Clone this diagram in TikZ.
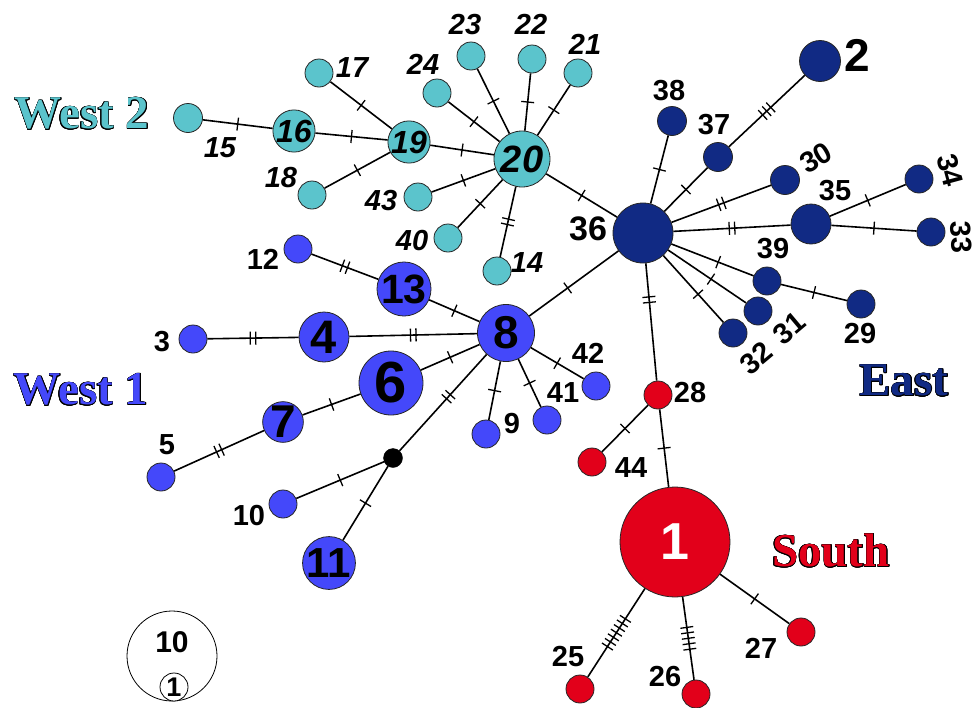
\documentclass[tikz,border=0pt]{standalone}
\usepackage{fontspec}
\setmainfont{Liberation Sans}
\newfontfamily\regfont{Liberation Serif}
\usepackage{contour}
\contourlength{0.55pt}
\usetikzlibrary{decorations.markings}
\definecolor{cyanc}{RGB}{91,196,204}
\definecolor{bluec}{RGB}{68,72,250}
\definecolor{navyc}{RGB}{17,42,132}
\definecolor{redc}{RGB}{226,0,26}
\newcommand{\fs}[1]{\fontsize{#1}{#1}\selectfont}
\tikzset{
  hap/.style={circle, draw=black!85, line width=0.8pt, inner sep=0pt, text=black},
  cy/.style={hap, fill=cyanc},
  bl/.style={hap, fill=bluec},
  nv/.style={hap, fill=navyc},
  rd/.style={hap, fill=redc},
  lab/.style={font=\fs{29}\bfseries, inner sep=0pt},
  labi/.style={font=\fs{29}\bfseries\itshape, inner sep=0pt},
  region/.style={font=\regfont\fs{47}\bfseries, inner sep=0pt},
  edge/.style={line width=1.6pt, black},
  mut/.style 2 args={postaction={decorate, decoration={markings,
    mark=at position #2 with {\foreach \k in {1,...,#1}{
      \draw[line width=1.3pt] ({(\k-(#1+1)/2)*5.5pt},-6.5pt) -- ({(\k-(#1+1)/2)*5.5pt},6.5pt);}}}}},
}
\begin{document}
\begin{tikzpicture}[x=1pt,y=-1pt]
\useasboundingbox (0,0) rectangle (979,707);
% ---------- West 2 ----------
\node[cy, minimum size=29pt] (n15) at (188,118) {};
\node[cy, minimum size=40pt, font=\fs{32}\bfseries\itshape] (n16) at (294,131) {16};
\node[cy, minimum size=28pt] (n17) at (319,73) {};
\node[cy, minimum size=28pt] (n18) at (312,195) {};
\node[cy, minimum size=40pt, font=\fs{32}\bfseries\itshape] (n19) at (409,142) {19};
\node[cy, minimum size=28pt] (n43) at (418,197) {};
\node[cy, minimum size=28pt] (n24) at (437,93) {};
\node[cy, minimum size=28pt] (n23) at (471,56) {};
\node[cy, minimum size=28pt] (n22) at (532,59) {};
\node[cy, minimum size=28pt] (n21) at (578,73) {};
\node[cy, minimum size=56pt, font=\fs{38}\bfseries\itshape] (n20) at (522,159) {20};
\node[cy, minimum size=28pt] (n40) at (448,238) {};
\node[cy, minimum size=28pt] (n14) at (497,271) {};
% ---------- East ----------
\node[nv, minimum size=60pt] (n36) at (643,233) {};
\node[nv, minimum size=41pt] (n2) at (820,61) {};
\node[nv, minimum size=29pt] (n38) at (672,121) {};
\node[nv, minimum size=29pt] (n37) at (718,157) {};
\node[nv, minimum size=29pt] (n30) at (785,180) {};
\node[nv, minimum size=28pt] (n34) at (919,179) {};
\node[nv, minimum size=40pt] (n35) at (811,224) {};
\node[nv, minimum size=28pt] (n33) at (931,232) {};
\node[nv, minimum size=28pt] (n39) at (767,281) {};
\node[nv, minimum size=28pt] (n29) at (861,304) {};
\node[nv, minimum size=28pt] (n31) at (758,311) {};
\node[nv, minimum size=28pt] (n32) at (733,333) {};
% ---------- South ----------
\node[rd, minimum size=28pt] (n28) at (658,395) {};
\node[rd, minimum size=28pt] (n44) at (592,462) {};
\node[rd, minimum size=110pt, text=white, font=\fs{52}\bfseries] (n1) at (675,542) {1};
\node[rd, minimum size=28pt] (n25) at (580,689) {};
\node[rd, minimum size=28pt] (n26) at (696,694) {};
\node[rd, minimum size=28pt] (n27) at (801,632) {};
% ---------- West 1 ----------
\node[bl, minimum size=57pt, font=\fs{46}\bfseries] (n8) at (506,333) {8};
\node[bl, minimum size=28pt] (n42) at (596,386) {};
\node[bl, minimum size=28pt] (n41) at (547,420) {};
\node[bl, minimum size=28pt] (n9) at (486,434) {};
\node[bl, minimum size=28pt] (n12) at (298,249) {};
\node[bl, minimum size=48pt, font=\fs{41}\bfseries] (n13) at (404,289) {13};
\node[bl, minimum size=28pt] (n3) at (193,339) {};
\node[bl, minimum size=50pt, font=\fs{47}\bfseries] (n4) at (324,337) {4};
\node[bl, minimum size=64pt, font=\fs{58}\bfseries] (n6) at (391,383) {6};
\node[bl, minimum size=40pt, font=\fs{46}\bfseries] (n7) at (283,422) {7};
\node[bl, minimum size=28pt] (n5) at (161,477) {};
\node[circle, fill=black, draw=black, inner sep=0pt, minimum size=19pt] (nb) at (393,458) {};
\node[bl, minimum size=28pt] (n10) at (283,504) {};
\node[bl, minimum size=50pt, font=\fs{42}\bfseries] (n11) at (329,563) {11};
% ---------- edges ----------
\draw[edge, mut={1}{0.5}] (n15) -- (n16);
\draw[edge, mut={1}{0.5}] (n16) -- (n19);
\draw[edge, mut={1}{0.5}] (n17) -- (n19);
\draw[edge, mut={1}{0.5}] (n18) -- (n19);
\draw[edge, mut={1}{0.5}] (n19) -- (n20);
\draw[edge, mut={1}{0.5}] (n24) -- (n20);
\draw[edge, mut={1}{0.5}] (n23) -- (n20);
\draw[edge, mut={1}{0.5}] (n22) -- (n20);
\draw[edge, mut={1}{0.5}] (n21) -- (n20);
\draw[edge, mut={1}{0.5}] (n43) -- (n20);
\draw[edge, mut={1}{0.5}] (n40) -- (n20);
\draw[edge, mut={2}{0.5}] (n14) -- (n20);
\draw[edge, mut={1}{0.5}] (n20) -- (n36);
\draw[edge, mut={1}{0.5}] (n36) -- (n38);
\draw[edge, mut={1}{0.5}] (n36) -- (n37);
\draw[edge, mut={3}{0.5}] (n37) -- (n2);
\draw[edge, mut={2}{0.5}] (n36) -- (n30);
\draw[edge, mut={2}{0.5}] (n36) -- (n35);
\draw[edge, mut={1}{0.5}] (n35) -- (n34);
\draw[edge, mut={1}{0.5}] (n35) -- (n33);
\draw[edge, mut={1}{0.57}] (n36) -- (n39);
\draw[edge, mut={1}{0.5}] (n39) -- (n29);
\draw[edge, mut={1}{0.55}] (n36) -- (n31);
\draw[edge, mut={1}{0.58}] (n36) -- (n32);
\draw[edge, mut={2}{0.31}] (n36) -- (n28);
\draw[edge, mut={1}{0.5}] (n28) -- (n44);
\draw[edge, mut={1}{0.5}] (n28) -- (n1);
\draw[edge, mut={7}{0.5}] (n1) -- (n25);
\draw[edge, mut={5}{0.5}] (n1) -- (n26);
\draw[edge, mut={1}{0.5}] (n1) -- (n27);
\draw[edge, mut={1}{0.57}] (n36) -- (n8);
\draw[edge, mut={1}{0.5}] (n8) -- (n13);
\draw[edge, mut={2}{0.5}] (n13) -- (n12);
\draw[edge, mut={2}{0.5}] (n8) -- (n4);
\draw[edge, mut={2}{0.5}] (n4) -- (n3);
\draw[edge, mut={1}{0.5}] (n8) -- (n6);
\draw[edge, mut={1}{0.5}] (n6) -- (n7);
\draw[edge, mut={2}{0.5}] (n7) -- (n5);
\draw[edge, mut={2}{0.44}] (n8) -- (nb);
\draw[edge, mut={1}{0.5}] (nb) -- (n10);
\draw[edge, mut={1}{0.5}] (nb) -- (n11);
\draw[edge, mut={1}{0.5}] (n8) -- (n9);
\draw[edge, mut={1}{0.5}] (n8) -- (n41);
\draw[edge, mut={1}{0.5}] (n8) -- (n42);
% ---------- labels ----------
\node[labi] (t15) at (220,148) {15};
\node[labi] (t17) at (352,68) {17};
\node[labi] (t18) at (281,178) {18};
\node[labi] (t43) at (381,201) {43};
\node[labi] (t24) at (423,64) {24};
\node[labi] (t23) at (465,25) {23};
\node[labi] (t22) at (531,24) {22};
\node[labi] (t21) at (585,44) {21};
\node[labi] (t40) at (412,241) {40};
\node[labi] (t14) at (527,263) {14};
\node[lab, font=\fs{34}\bfseries] (t36) at (588,229) {36};
\node[lab] (t38) at (669,91) {38};
\node[lab] (t37) at (714,125) {37};
\node[lab, font=\fs{46}\bfseries] (t2) at (857,55) {2};
\node[lab, rotate=30] (t30) at (816,158) {30};
\node[lab] (t35) at (835,191) {35};
\node[lab, rotate=-75] (t34) at (950,170) {34};
\node[lab, rotate=-88] (t33) at (961,237) {33};
\node[lab] (t39) at (773,249) {39};
\node[lab] (t29) at (860,334) {29};
\node[lab, rotate=40] (t31) at (789,328) {31};
\node[lab, rotate=40] (t32) at (756,358) {32};
\node[lab] (t28) at (690,393) {28};
\node[lab] (t44) at (631,468) {44};
\node[lab] (t25) at (568,657) {25};
\node[lab] (t26) at (665,677) {26};
\node[lab] (t27) at (761,648) {27};
\node[lab] (t42) at (588,353) {42};
\node[lab] (t41) at (563,393) {41};
\node[lab] (t9) at (512,424) {9};
\node[lab] (t12) at (263,259) {12};
\node[lab] (t3) at (162,342) {3};
\node[lab] (t5) at (167,445) {5};
\node[lab] (t10) at (249,516) {10};
% ---------- regions ----------
\node[region, text=cyanc] (rW2) at (82,114) {\contour{black}{West 2}};
\node[region, text=bluec] (rW1) at (81,390) {\contour{black}{West 1}};
\node[region, text=navyc] (rE) at (904,381) {\contour{black}{East}};
\node[region, text=redc] (rS) at (831,551) {\contour{black}{South}};
% ---------- legend ----------
\node[circle, draw=black, line width=0.8pt, inner sep=0pt, minimum size=90pt] (leg) at (172,656) {};
\node[lab, font=\fs{30}\bfseries] (leg10) at (172,642) {10};
\node[circle, draw=black, fill=white, line width=0.8pt, inner sep=0pt, minimum size=28pt, font=\fs{27}\bfseries] (leg1) at (174,687) {1};
\end{tikzpicture}
\end{document}
